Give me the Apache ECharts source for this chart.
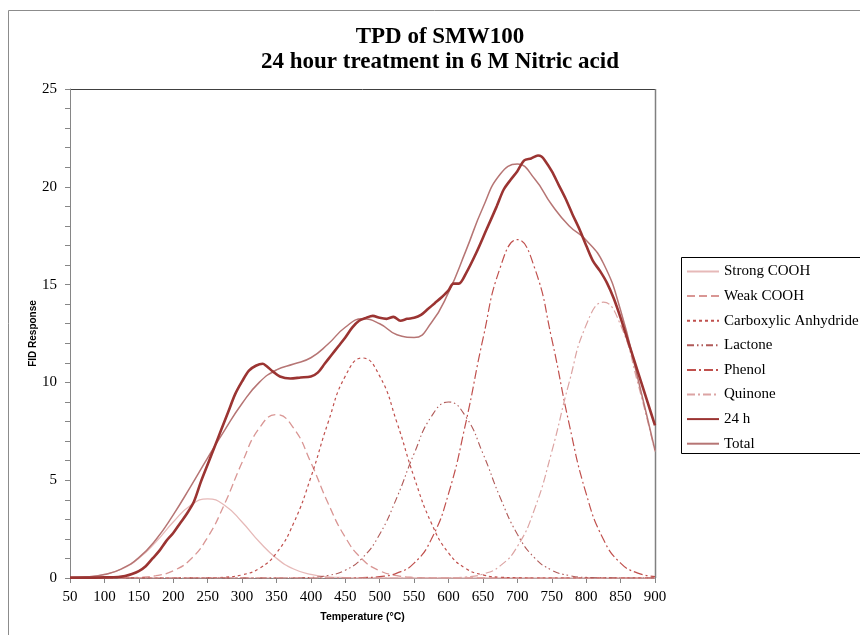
<!DOCTYPE html>
<html>
<head>
<meta charset="utf-8">
<script src="https://cdn.jsdelivr.net/npm/echarts@6/dist/echarts.min.js"></script>
<style>
  html, body { margin: 0; padding: 0; background: #fff; }
  #chart { width: 860px; height: 635px; }
</style>
</head>
<body>
<div id="chart"></div>
<script>
// Temperature grid (°C) for the fitted peak components
const temps = [50,75,100,125,150,175,200,225,250,275,300,325,350,375,400,425,450,475,500,525,550,575,600,625,650,675,700,725,750,775,800,825,850,875,900];

// Deconvoluted desorption peaks (FID response)
const strongCOOH = [0.02,0.06,0.18,0.46,1.01,1.85,2.86,3.71,4.05,3.71,2.86,1.85,1.01,0.46,0.18,0.06,0.02,0,0,0,0,0,0,0,0,0,0,0,0,0,0,0,0,0,0];
const weakCOOH   = [0,0,0,0.01,0.03,0.12,0.37,0.95,2.08,3.82,5.90,7.66,8.35,7.66,5.90,3.82,2.08,0.95,0.37,0.12,0.03,0.01,0,0,0,0,0,0,0,0,0,0,0,0,0];
const anhydride  = [0,0,0,0,0,0,0,0,0.01,0.04,0.16,0.49,1.28,2.81,5.15,7.95,10.32,11.25,10.32,7.95,5.15,2.81,1.28,0.49,0.16,0.04,0.01,0,0,0,0,0,0,0,0];
const lactone    = [0,0,0,0,0,0,0,0,0,0,0,0,0,0.01,0.03,0.13,0.40,1.03,2.24,4.12,6.36,8.25,9.0,8.25,6.36,4.12,2.24,1.03,0.40,0.13,0.03,0.01,0,0,0];
const phenol     = [0,0,0,0,0,0,0,0,0,0,0,0,0,0,0,0,0,0.02,0.07,0.25,0.76,1.98,4.31,7.92,12.22,15.86,17.3,15.86,12.22,7.92,4.31,1.98,0.76,0.25,0.07];
const quinone    = [0,0,0,0,0,0,0,0,0,0,0,0,0,0,0,0,0,0,0,0,0,0,0.01,0.05,0.20,0.62,1.61,3.52,6.46,9.96,12.93,14.1,12.93,9.96,6.46];
const total      = [0.02,0.06,0.18,0.47,1.04,1.97,3.23,4.66,6.14,7.57,8.92,10.00,10.64,10.94,11.26,11.96,12.82,13.25,13.00,12.44,12.30,13.05,14.60,16.71,18.94,20.64,21.16,20.41,19.08,18.01,17.27,16.09,13.69,10.21,6.53];

// Measured TPD trace after 24 h treatment
const tempsMeasured = [50,75,100,120,130,140,150,160,170,180,190,200,210,220,230,240,250,260,270,280,290,300,310,320,330,335,345,355,370,385,400,410,420,430,440,450,460,470,480,490,500,510,520,530,540,550,560,570,580,590,600,607,615,625,640,655,670,680,690,700,710,720,730,735,740,750,760,770,780,790,800,810,820,830,840,850,860,870,880,890,900];
const measured24h = [0.02,0.02,0.03,0.05,0.1,0.2,0.35,0.6,1.0,1.4,1.9,2.3,2.8,3.3,3.9,4.9,5.8,6.7,7.6,8.5,9.4,10.05,10.6,10.85,10.95,10.85,10.55,10.3,10.2,10.25,10.3,10.5,10.95,11.4,11.85,12.3,12.8,13.15,13.3,13.4,13.3,13.25,13.35,13.15,13.25,13.3,13.45,13.75,14.05,14.35,14.7,15.05,15.05,15.55,16.6,17.8,19.0,19.85,20.35,20.8,21.35,21.45,21.6,21.55,21.35,20.8,20.1,19.4,18.6,17.85,17.0,16.2,15.7,15.1,14.3,13.3,12.2,11.1,10.0,8.9,7.8];

// Axis ticks
const xTicks = { min: 50, max: 900, step: 50 };
const yTicks = { min: 0, max: 25, step: 1, labelEvery: 5 };

const zip = (xs, ys) => xs.map((x, i) => [x, ys[i]]);

const serif = 'Liberation Serif';

function comp(name, values, color, dash, width) {
  return {
    name, type: 'line', data: zip(temps, values),
    smooth: 0.5, symbol: 'none', silent: true,
    lineStyle: { color, width, type: dash },
    itemStyle: { color }
  };
}

const chart = echarts.init(document.getElementById('chart'), null, { renderer: 'canvas' });

chart.setOption({
  animation: false,
  backgroundColor: '#fff',
  title: {
    text: 'TPD of SMW100\n24 hour treatment in 6 M Nitric acid',
    left: 435, top: 20, textAlign: 'center',
    textStyle: { fontFamily: serif, fontWeight: 'bold', fontSize: 23, lineHeight: 25, color: '#000' }
  },
  graphic: [
    { type: 'rect', shape: { x: 8.5, y: 10.5, width: 900, height: 700 }, style: { fill: null, stroke: '#8c8c8c', lineWidth: 1 }, silent: true },
    { type: 'rect', shape: { x: 681.5, y: 257.5, width: 200, height: 196 }, style: { fill: '#fff', stroke: '#000', lineWidth: 1 }, silent: true, z: 0 },
    { type: 'line', shape: { x1: 70, y1: 89.5, x2: 655, y2: 89.5 }, style: { stroke: '#404040', lineWidth: 1 }, silent: true },
    { type: 'line', shape: { x1: 655.5, y1: 89, x2: 655.5, y2: 578 }, style: { stroke: '#808080', lineWidth: 1.5 }, silent: true }
  ],
  legend: {
    orient: 'vertical', left: 686, top: 264, padding: 0,
    itemWidth: 32, itemHeight: 14, itemGap: 9.6,
    itemStyle: { opacity: 0, borderWidth: 0 },
    textStyle: { fontFamily: serif, fontSize: 15, color: '#000', lineHeight: 14 },
    data: ['Strong COOH','Weak COOH','Carboxylic Anhydride','Lactone','Phenol','Quinone','24 h','Total'],
    z: 10
  },
  grid: { left: 70, top: 89, width: 585, height: 489, containLabel: false },
  xAxis: {
    type: 'value', min: xTicks.min, max: xTicks.max, interval: xTicks.step,
    name: 'Temperature (°C)', nameLocation: 'middle', nameGap: 34, nameMoveOverlap: false,
    nameTextStyle: { fontFamily: 'Liberation Sans', fontWeight: 'bold', fontSize: 10.5, color: '#000' },
    axisLine: { show: true, onZero: false, lineStyle: { color: '#868686', width: 1 } },
    axisTick: { show: true, length: 5, lineStyle: { color: '#868686' } },
    axisLabel: { margin: 12, fontFamily: serif, fontSize: 15, color: '#000' },
    splitLine: { show: false }
  },
  yAxis: {
    type: 'value', min: yTicks.min, max: yTicks.max, interval: yTicks.step,
    name: 'FID Response', nameLocation: 'middle', nameGap: 32, nameRotate: 90, nameMoveOverlap: false,
    nameTextStyle: { fontFamily: 'Liberation Sans', fontWeight: 'bold', fontSize: 10, color: '#000' },
    axisLine: { show: true, lineStyle: { color: '#868686', width: 1 } },
    axisTick: { show: true, length: 5, lineStyle: { color: '#868686' } },
    axisLabel: {
      margin: 13, fontFamily: serif, fontSize: 15, color: '#000',
      formatter: v => (v % yTicks.labelEvery === 0 ? String(v) : '')
    },
    splitLine: { show: false }
  },
  series: [
    comp('Strong COOH', strongCOOH, '#e6b9b8', 'solid', 1.3),
    comp('Weak COOH', weakCOOH, '#d99694', [8, 4], 1.3),
    comp('Carboxylic Anhydride', anhydride, '#c0504d', [3, 3], 1.2),
    comp('Lactone', lactone, '#b05a58', [7, 3, 1.5, 3, 1.5, 3], 1.1),
    comp('Phenol', phenol, '#c0504d', [9, 3, 2, 3], 1.2),
    comp('Quinone', quinone, '#dca4a3', [8, 3, 2, 3], 1.2),
    {
      name: '24 h', type: 'line', data: zip(tempsMeasured, measured24h),
      smooth: 0.3, symbol: 'none', silent: true, z: 5,
      lineStyle: { color: '#9b3432', width: 2.6 }, itemStyle: { color: '#9b3432' }
    },
    {
      name: 'Total', type: 'line', data: zip(temps, total),
      smooth: 0.5, symbol: 'none', silent: true, z: 4,
      lineStyle: { color: '#b67574', width: 1.5 }, itemStyle: { color: '#b67574' }
    }
  ]
});
</script>
</body>
</html>
